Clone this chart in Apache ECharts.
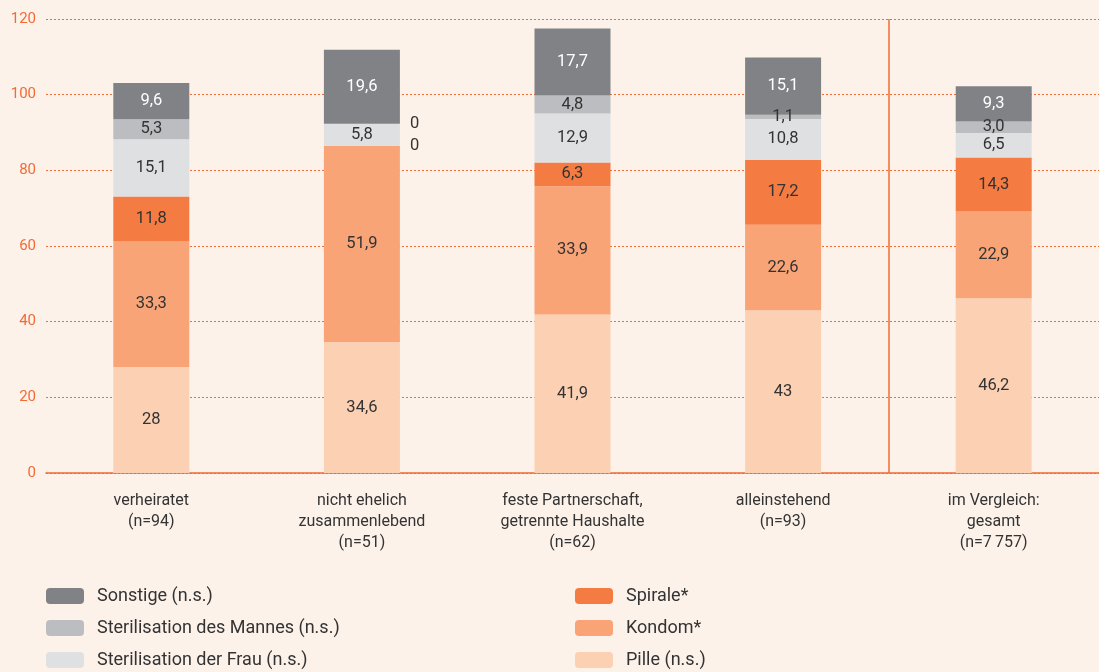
<!DOCTYPE html>
<html>
<head>
<meta charset="utf-8">
<script src="https://cdn.jsdelivr.net/npm/echarts@6/dist/echarts.min.js"></script>
<style>
  html, body { margin: 0; padding: 0; background: #fdf2ea; }
  #chart { width: 1099px; height: 672px; }
</style>
</head>
<body>
<div id="chart"></div>
<script>
const categories = [
  'verheiratet\n(n=94)',
  'nicht ehelich\nzusammenlebend\n(n=51)',
  'feste Partnerschaft,\ngetrennte Haushalte\n(n=62)',
  'alleinstehend\n(n=93)',
  'im Vergleich:\ngesamt\n(n=7\u2009757)'
];
const pille = [28, 34.6, 41.9, 43, 46.2];
const kondom = [33.3, 51.9, 33.9, 22.6, 22.9];
const spirale = [11.8, 0, 6.3, 17.2, 14.3];
const sterFrau = [15.1, 5.8, 12.9, 10.8, 6.5];
const sterMann = [5.3, 0, 4.8, 1.1, 3.0];
const sonstige = [9.6, 19.6, 17.7, 15.1, 9.3];
const yTicks = [0, 20, 40, 60, 80, 100, 120];
// separator before the "gesamt" column (category boundary index)
const separatorAt = 4;

function makeSeries(name, values, color, textColor) {
  return {
    name: name,
    type: 'bar',
    stack: 'all',
    barWidth: 76,
    itemStyle: { color: color },
    data: values.map(v => {
      const item = { value: v };
      if (v === 0) item.label = { position: 'right', distance: 10, color: '#333' };
      return item;
    }),
    label: {
      show: true,
      position: 'inside',
      color: textColor,
      fontFamily: 'Roboto',
      fontSize: 16.5,
      formatter: p => {
        if (p.value === 0) return '0';
        if (name === 'Pille (n.s.)' && Number.isInteger(p.value)) return String(p.value);
        return p.value.toFixed(1).replace('.', ',');
      }
    }
  };
}

const legendText = { color: '#333', fontSize: 18, lineHeight: 22, padding: [0, 0, 0, 8] };

const chart = echarts.init(document.getElementById('chart'));
chart.setOption({
  backgroundColor: '#fdf2ea',
  animation: false,
  textStyle: { fontFamily: 'Roboto' },
  grid: { left: 46, right: -5, top: 19, bottom: 199, containLabel: false },
  xAxis: [
    {
      type: 'category',
      data: categories,
      axisLine: { lineStyle: { color: '#f26b35', width: 1.5 } },
      axisTick: { show: false },
      axisLabel: { color: '#333', fontSize: 16, lineHeight: 21, margin: 17 },
      splitLine: { show: false }
    },
    {
      type: 'value',
      min: 0,
      max: categories.length,
      show: false
    }
  ],
  yAxis: {
    type: 'value',
    min: yTicks[0],
    max: yTicks[yTicks.length - 1],
    interval: 20,
    axisLine: { show: false },
    axisTick: { show: false },
    axisLabel: { color: '#f26b35', fontSize: 15, margin: 10 },
    splitLine: { lineStyle: { color: '#f26b35', type: [2, 2], width: 1 } }
  },
  legend: [
    {
      orient: 'vertical',
      left: 46, top: 585, bottom: 0, padding: 0,
      itemWidth: 38, itemHeight: 16, itemGap: 10,
      textStyle: legendText,
      data: ['Sonstige (n.s.)', 'Sterilisation des Mannes (n.s.)', 'Sterilisation der Frau (n.s.)']
    },
    {
      orient: 'vertical',
      left: 575, top: 585, bottom: 0, padding: 0,
      itemWidth: 38, itemHeight: 16, itemGap: 10,
      textStyle: legendText,
      data: ['Spirale*', 'Kondom*', 'Pille (n.s.)']
    }
  ],
  series: [
    makeSeries('Pille (n.s.)', pille, '#fcd0b2', '#333'),
    makeSeries('Kondom*', kondom, '#f8a477', '#333'),
    makeSeries('Spirale*', spirale, '#f47b42', '#333'),
    makeSeries('Sterilisation der Frau (n.s.)', sterFrau, '#dfe0e2', '#333'),
    makeSeries('Sterilisation des Mannes (n.s.)', sterMann, '#bcbdc0', '#333'),
    makeSeries('Sonstige (n.s.)', sonstige, '#818285', '#fff'),
    {
      type: 'line',
      xAxisIndex: 1,
      data: [],
      silent: true,
      markLine: {
        symbol: 'none',
        silent: true,
        label: { show: false },
        lineStyle: { color: '#f26b35', width: 1.5, type: 'solid' },
        data: [{ xAxis: separatorAt }]
      }
    }
  ]
});
</script>
</body>
</html>
